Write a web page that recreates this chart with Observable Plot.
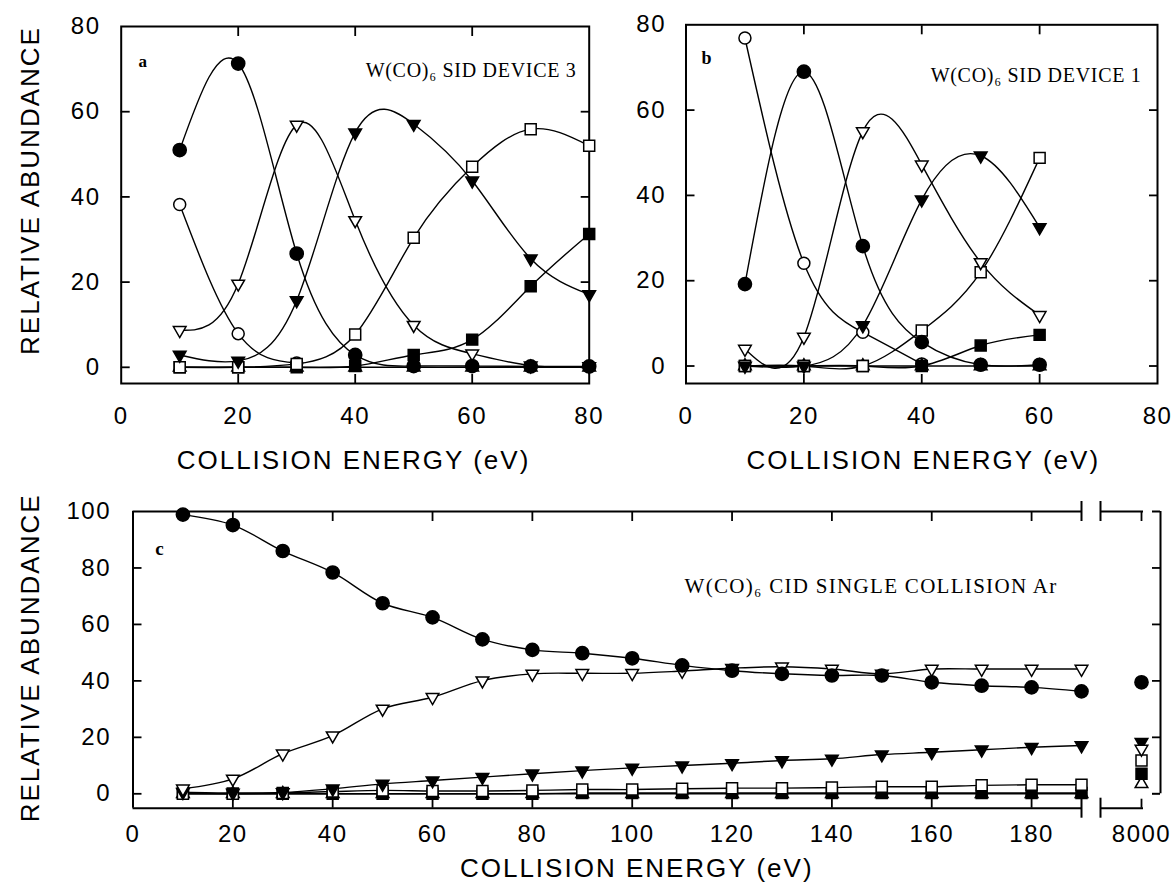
<!DOCTYPE html>
<html>
<head>
<meta charset="utf-8">
<script src="https://cdn.jsdelivr.net/npm/d3@7"></script>
<script src="https://cdn.jsdelivr.net/npm/@observablehq/plot@0.6"></script>
<style>
  html, body { margin: 0; padding: 0; background: #fff; }
  #chart { position: relative; width: 1176px; height: 890px; overflow: hidden; background: #fff; }
  #chart svg { position: absolute; overflow: visible; }
  g[aria-label="x-axis tick label"], g[aria-label="y-axis tick label"] { letter-spacing: 1.5px; }
  .ttl { letter-spacing: 2px; }
  .noteab { letter-spacing: 0.7px; }
  .notec { letter-spacing: 1.3px; }
</style>
</head>
<body>
<div id="chart"></div>
<script>
// ---------------- DATA ----------------
// Panel a: W(CO)6 SID device 3
const energiesA = [10, 20, 30, 40, 50, 60, 70, 80];
const aW6 = [38.2, 7.9, 1.0, null, null, null, null, null];   // open circle
const aW5 = [51.0, 71.3, 26.7, 2.9, 0.3, 0.3, 0.2, 0.2];      // filled circle
const aW4 = [8.7, 19.6, 56.9, 34.5, 9.9, 3.2, 0.4, 0.2];      // open triangle down
const aW3 = [2.9, 1.5, 15.7, 55.1, 57.1, 43.8, 25.5, 17.1];   // filled triangle down
const aW2 = [0, 0, 0.8, 7.7, 30.4, 47.1, 55.9, 52.0];         // open square
const aW1 = [0, 0, 0, 0.3, 2.9, 6.5, 19.0, 31.3];             // filled square
const aW0 = [0, 0, 0, 0, 0, 0, 0, 0];                         // open triangle up

// Panel b: W(CO)6 SID device 1
const energiesB = [10, 20, 30, 40, 50, 60];
const bW6 = [76.9, 24.1, 7.9, 0.5, null, null];
const bW5 = [19.2, 69.0, 28.1, 5.6, 0.3, 0.3];
const bW4 = [4.0, 6.8, 55.0, 47.2, 24.3, 11.9];
const bW3 = [0, 0, 9.5, 39.0, 49.3, 32.5];
const bW2 = [0, 0, 0, 8.3, 22.0, 48.8];
const bW1 = [0, 0, 0, 0, 4.8, 7.3];
const bW0 = [0, 0, 0, 0, 0, 0];

// Panel c: W(CO)6 CID single collision Ar
const energiesC = [10, 20, 30, 40, 50, 60, 70, 80, 90, 100, 110, 120, 130, 140, 150, 160, 170, 180, 190];
const cW5 = [98.9, 95.2, 86.0, 78.4, 67.5, 62.5, 54.7, 51.0, 49.8, 48.0, 45.5, 43.6, 42.5, 41.9, 41.9, 39.5, 38.3, 37.7, 36.3];
const cW4 = [1.8, 5.3, 14.2, 20.6, 30.1, 34.2, 40.1, 42.5, 42.7, 42.7, 43.5, 44.5, 45.0, 44.2, 42.5, 44.2, 44.2, 44.2, 44.2];
const cW3 = [0.6, 0.3, 0.5, 1.8, 3.5, 4.7, 5.9, 7.1, 8.2, 9.2, 10.0, 10.8, 11.8, 12.4, 13.9, 14.7, 15.6, 16.5, 17.1];
const cW2 = [0, 0, 0.3, 0.8, 1.2, 1.0, 1.0, 1.2, 1.5, 1.5, 1.8, 2.0, 2.0, 2.2, 2.5, 2.5, 3.0, 3.2, 3.2];
const cW1 = [0.2, 0, 0, 0, 0, 0, 0, 0, 0.3, 0.3, 0.3, 0.3, 0.3, 0.3, 0.3, 0.3, 0.3, 0.3, 0.3];
const cW0 = [0, 0, 0, 0, 0, 0, 0, 0, 0, 0, 0, 0, 0, 0, 0, 0, 0, 0, 0];
// high energy (8000 eV) point, order: W5, W4, W3, W2, W1, W0
const highEnergy = 8000;
const cHigh = [39.5, 15.9, 18.3, 11.8, 7.1, 3.5];

// axis ticks / texts
const ticksA_x = [0, 20, 40, 60, 80];
const ticksA_y = [0, 20, 40, 60, 80];
const ticksC_x = [0, 20, 40, 60, 80, 100, 120, 140, 160, 180, 8000];
const ticksC_y = [0, 20, 40, 60, 80, 100];
const breakAt = 190;
const yTitle = "RELATIVE ABUNDANCE";
const xTitle = "COLLISION ENERGY (eV)";
const noteA = "W(CO)\u2086 SID DEVICE 3";
const noteB = "W(CO)\u2086 SID DEVICE 1";
const noteC = "W(CO)\u2086 CID SINGLE COLLISION Ar";

// ---------------- STYLE ----------------
const SANS = "'Liberation Sans', Arial, Helvetica, sans-serif";
const SERIF = "'Liberation Serif', 'Times New Roman', serif";
const s3 = Math.sqrt(3);
const triDown = { draw(ctx, size) { const y = -Math.sqrt(size / (s3 * 3)); ctx.moveTo(0, -2 * y); ctx.lineTo(-s3 * y, y); ctx.lineTo(s3 * y, y); ctx.closePath(); } };
const styles = {
  W6: { symbol: "circle", r: 6, filled: false },
  W5: { symbol: "circle", r: 6.6, filled: true },
  W4: { symbol: triDown, r: 4.7, filled: false },
  W3: { symbol: triDown, r: 4.7, filled: true },
  W2: { symbol: "square", r: 6.2, filled: false },
  W1: { symbol: "square", r: 6.2, filled: true },
  W0: { symbol: "triangle", r: 4.7, filled: false }
};
const drawOrder = ["W6", "W0", "W1", "W2", "W3", "W4", "W5"];

function seriesMarks(xs, series, curve) {
  const marks = [];
  const data = {};
  for (const k of Object.keys(series)) {
    data[k] = xs.map((x, i) => ({ x, y: series[k][i] })).filter(d => d.y != null);
    marks.push(Plot.line(data[k], { x: "x", y: "y", curve, stroke: "black", strokeWidth: 1.4 }));
  }
  for (const k of drawOrder) {
    if (!data[k]) continue;
    const st = styles[k];
    marks.push(Plot.dot(data[k], { x: "x", y: "y", symbol: st.symbol, r: st.r,
      fill: st.filled ? "black" : "white", stroke: "black", strokeWidth: 1.5 }));
  }
  return marks;
}

function innerTicks(xTicks, yTicks, yRightTicks) {
  const sw = 1.8, empty = () => "";
  return [
    Plot.axisX(xTicks, { anchor: "top", tickSize: 9, dy: 9, tickFormat: empty, label: null, strokeWidth: sw }),
    Plot.axisX(xTicks, { anchor: "bottom", tickSize: 9, dy: -9, tickFormat: empty, label: null, strokeWidth: sw }),
    Plot.axisY(yTicks, { anchor: "left", tickSize: 9, dx: 9, tickFormat: empty, label: null, strokeWidth: sw }),
    Plot.axisY(yRightTicks, { anchor: "right", tickSize: 9, dx: -9, tickFormat: empty, label: null, strokeWidth: sw })
  ];
}

function place(svg, left, top) {
  svg.style.left = left + "px";
  svg.style.top = top + "px";
  document.getElementById("chart").appendChild(svg);
}

const fmt = d => String(d);
const baseStyle = { fontFamily: SANS, fontSize: "24px", color: "black", background: "transparent" };
const txt = (s, o) => Plot.text([s], { textAnchor: "middle", lineAnchor: "middle", fill: "black", ...o });

// ---------------- PANEL A ----------------
const plotA = Plot.plot({
  width: 620, height: 480,
  marginLeft: 120.7, marginRight: 31.3, marginTop: 26, marginBottom: 97,
  x: { domain: [0, 80], axis: null },
  y: { domain: [-3.8, 80], axis: null },
  style: baseStyle,
  marks: [
    Plot.frame({ stroke: "black", strokeWidth: 2 }),
    ...innerTicks([20, 40, 60], [0, 20, 40, 60], [0, 20, 40, 60]),
    Plot.axisY(ticksA_y, { anchor: "left", tickSize: 0, tickPadding: 20.7, label: null, fontSize: 24, tickFormat: fmt }),
    Plot.axisX(ticksA_x, { anchor: "bottom", tickSize: 0, tickPadding: 23.5, label: null, fontSize: 24, tickFormat: fmt }),
    ...seriesMarks(energiesA, { W6: aW6, W5: aW5, W4: aW4, W3: aW3, W2: aW2, W1: aW1, W0: aW0 }, "natural"),
    txt(noteA, { frameAnchor: "top-right", dx: -12.7, dy: 44, textAnchor: "end", fontFamily: SERIF, fontSize: 20, className: "noteab" }),
    txt("a", { frameAnchor: "top-left", dx: 21.5, dy: 35, fontFamily: SERIF, fontWeight: "bold", fontSize: 17 }),
    txt(yTitle, { frameAnchor: "left", dx: -90.5, dy: -14.5, rotate: -90, fontSize: 26, className: "ttl" }),
    txt(xTitle, { frameAnchor: "bottom", dx: -1.7, dy: 77, fontSize: 26, className: "ttl" })
  ]
});
place(plotA, 0, 0);

// ---------------- PANEL B ----------------
const plotB = Plot.plot({
  width: 556, height: 480,
  marginLeft: 65.5, marginRight: 19, marginTop: 24.3, marginBottom: 97,
  x: { domain: [0, 80], axis: null },
  y: { domain: [-4.1, 80], axis: null },
  style: baseStyle,
  marks: [
    Plot.frame({ stroke: "black", strokeWidth: 2 }),
    ...innerTicks([20, 40, 60], [0, 20, 40, 60], [0, 20, 40, 60]),
    Plot.axisY(ticksA_y, { anchor: "left", tickSize: 0, tickPadding: 20, label: null, fontSize: 24, tickFormat: fmt }),
    Plot.axisX(ticksA_x, { anchor: "bottom", tickSize: 0, tickPadding: 23.5, label: null, fontSize: 24, tickFormat: fmt }),
    ...seriesMarks(energiesB, { W6: bW6, W5: bW5, W4: bW4, W3: bW3, W2: bW2, W1: bW1, W0: bW0 }, "natural"),
    txt(noteB, { frameAnchor: "top-right", dx: -16, dy: 51, textAnchor: "end", fontFamily: SERIF, fontSize: 20, className: "noteab" }),
    txt("b", { frameAnchor: "top-left", dx: 20.5, dy: 33, fontFamily: SERIF, fontWeight: "bold", fontSize: 18 }),
    txt(xTitle, { frameAnchor: "bottom", dx: 1.5, dy: 77, fontSize: 26, className: "ttl" })
  ]
});
place(plotB, 620, 0);

// ---------------- PANEL C ----------------
const yMinC = -5.1;
const highData = ["W5", "W4", "W3", "W2", "W1", "W0"].map((k, i) => ({ k, x: highEnergy, y: cHigh[i] }));
const highMarks = drawOrder.filter(k => k !== "W6").map(k => {
  const st = styles[k];
  return Plot.dot(highData.filter(d => d.k === k), { x: "x", y: "y", symbol: st.symbol, r: st.r,
    fill: st.filled ? "black" : "white", stroke: "black", strokeWidth: 1.5 });
});
const frameW = 2;
const plotC = Plot.plot({
  width: 1176, height: 410,
  marginLeft: 132.5, marginRight: 16, marginTop: 31, marginBottom: 82.3,
  x: { type: "linear", domain: [0, breakAt, highEnergy], range: [132.5, 1081, 1141], axis: null },
  y: { domain: [yMinC, 100], axis: null },
  style: baseStyle,
  marks: [
    // broken frame
    Plot.ruleX([0], { stroke: "black", strokeWidth: frameW }),
    Plot.ruleY([100, yMinC], { x1: 0, x2: breakAt, stroke: "black", strokeWidth: frameW }),
    Plot.ruleY([100, yMinC], { x1: breakAt, x2: highEnergy, insetLeft: 19, insetRight: -2, stroke: "black", strokeWidth: frameW }),
    Plot.ruleX([breakAt], { y1: 100, y2: 100, insetTop: -10, insetBottom: -10, stroke: "black", strokeWidth: frameW }),
    Plot.ruleX([breakAt], { y1: 100, y2: 100, insetTop: -10, insetBottom: -10, dx: 19, stroke: "black", strokeWidth: frameW }),
    Plot.ruleX([breakAt], { y1: yMinC, y2: yMinC, insetTop: -10, insetBottom: -10, stroke: "black", strokeWidth: frameW }),
    Plot.ruleX([breakAt], { y1: yMinC, y2: yMinC, insetTop: -10, insetBottom: -10, dx: 19, stroke: "black", strokeWidth: frameW }),
    Plot.ruleX([highEnergy], { y1: 0, y2: 100, dx: 19, stroke: "black", strokeWidth: frameW }),
    Plot.ruleY([0, 100], { x1: highEnergy, x2: highEnergy, insetLeft: 11, insetRight: -19, stroke: "black", strokeWidth: frameW }),
    ...innerTicks([20, 40, 60, 80, 100, 120, 140, 160, 180, 8000], [0, 20, 40, 60, 80], [20, 40, 60, 80]),
    Plot.axisY(ticksC_y, { anchor: "left", tickSize: 0, tickPadding: 22, label: null, fontSize: 24, tickFormat: fmt }),
    Plot.axisX(ticksC_x, { anchor: "bottom", tickSize: 0, tickPadding: 17, label: null, fontSize: 24, tickFormat: fmt }),
    ...seriesMarks(energiesC, { W5: cW5, W4: cW4, W3: cW3, W2: cW2, W1: cW1, W0: cW0 }, "catmull-rom"),
    ...highMarks,
    txt(noteC, { frameAnchor: "top-right", dx: -103, dy: 75, textAnchor: "end", fontFamily: SERIF, fontSize: 21, className: "notec" }),
    txt("c", { frameAnchor: "top-left", dx: 26.5, dy: 37, fontFamily: SERIF, fontWeight: "bold", fontSize: 19 }),
    txt(yTitle, { frameAnchor: "left", dx: -102, dy: -2, rotate: -90, fontSize: 26, className: "ttl" }),
    txt(xTitle, { frameAnchor: "bottom", dx: -10, dy: 60, fontSize: 26, className: "ttl" })
  ]
});
place(plotC, 0, 480);
</script>
</body>
</html>
